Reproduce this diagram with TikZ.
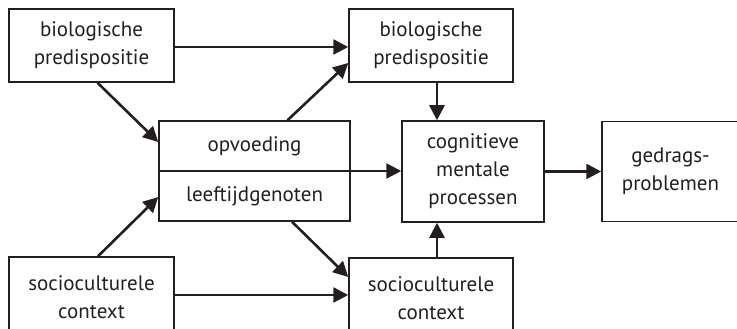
\documentclass[tikz,border=0pt]{standalone}
\usepackage{fontspec}
\setmainfont{PT Sans}
\usetikzlibrary{arrows.meta,calc}
\definecolor{ink}{HTML}{231F20}
\tikzset{
  box/.style={draw=ink, line width=1.5pt, fill=white, text=ink, align=center,
    inner sep=0pt, font=\fontsize{21}{28}\selectfont},
  lbl/.style={text=ink, inner sep=0pt, font=\fontsize{21}{28}\selectfont},
  conn/.style={draw=ink, line width=2.6pt, -{Triangle[length=15pt,width=15pt]}},
}
\begin{document}
\begin{tikzpicture}[x=1pt,y=-1pt]
\clip (0,0) rectangle (737,329);
\fill[white] (0,0) rectangle (737,329);
\node[box, minimum width=165pt, minimum height=73pt] (bioL) at (91.5,45.5) {biologische\\predispositie};
\node[box, minimum width=164pt, minimum height=73pt] (bioR) at (431,45.5) {biologische\\predispositie};
\node[box, minimum width=191pt, minimum height=100pt] (opv) at (254.5,171) {};
\draw[draw=ink, line width=1.5pt] (opv.west) -- (opv.east);
\node[lbl] (opvt) at (254.5,146) {opvoeding};
\node[lbl] (leeft) at (254.5,196) {leeftijdgenoten};
\node[box, minimum width=142pt, minimum height=101pt] (cog) at (473,171.5) {cognitieve\\mentale\\processen};
\node[box, minimum width=137pt, minimum height=100pt] (ged) at (670.5,171.5) {gedrags-\\problemen};
\node[box, minimum width=165pt, minimum height=80pt] (socL) at (91.5,297) {socioculturele\\context};
\node[box, minimum width=164pt, minimum height=80pt] (socR) at (431,298) {socioculturele\\context};

\draw[conn] ([yshift=-1.5pt]bioL.east) -- ([yshift=-1.5pt]bioR.west);
\draw[conn] ([xshift=6pt]bioL.south) -- ([yshift=29pt]opv.west);
\draw[conn] ([xshift=33pt]opv.north) -- ([yshift=-17.5pt]bioR.west);
\draw[conn] ([xshift=6pt]bioR.south) -- ([xshift=6pt]bioR.south |- cog.north);
\draw[conn] (opv.east) -- (opv.east -| cog.west);
\draw[conn] (cog.east) -- (cog.east -| ged.west);
\draw[conn] ([xshift=6.5pt]socL.north) -- ([yshift=-26pt]opv.west);
\draw[conn] ([yshift=2pt]socL.east) -- ([yshift=2pt]socL.east -| socR.west);
\draw[conn] ([xshift=37.5pt]opv.south) -- ([yshift=21pt]socR.west);
\draw[conn] ([xshift=6pt]socR.north) -- ([xshift=6pt]socR.north |- cog.south);
\end{tikzpicture}
\end{document}
